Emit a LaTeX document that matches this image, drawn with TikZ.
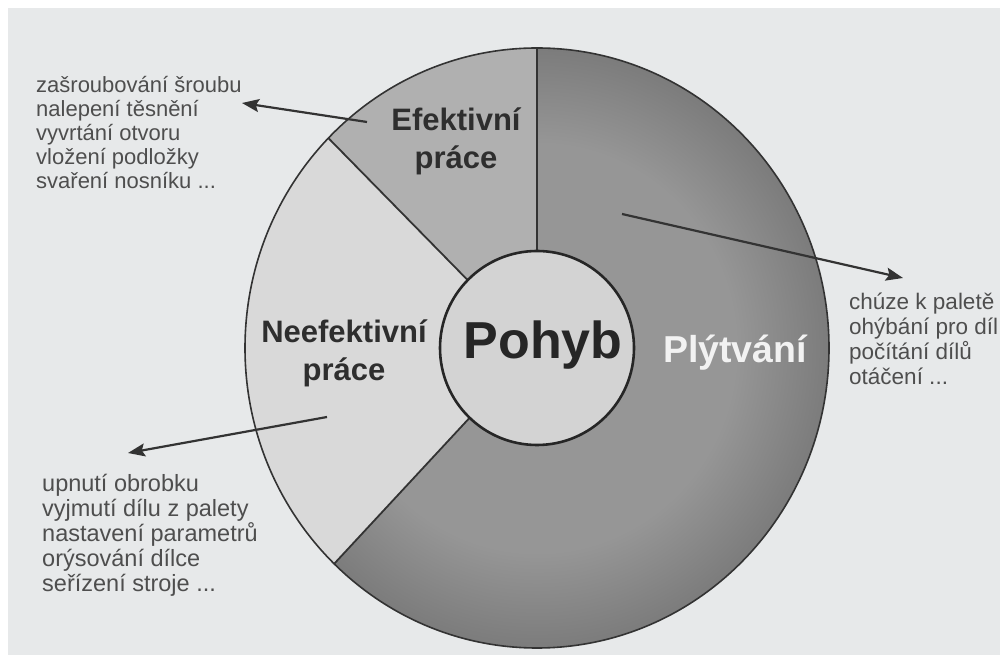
\documentclass[tikz,border=0pt]{standalone}
\usepackage{fontspec}
\setmainfont{Liberation Sans}
\usetikzlibrary{arrows.meta,calc}

\definecolor{paper}{HTML}{E7E9EA}
\definecolor{inkgray}{HTML}{4E4E4E}
\definecolor{labelink}{HTML}{2E2E2E}
\definecolor{effcol}{HTML}{B0B0B0}
\definecolor{neffcol}{HTML}{D9D9D9}
\definecolor{corecol}{HTML}{D3D3D3}
\definecolor{wasteA}{HTML}{969696}
\definecolor{wasteB}{HTML}{686868}
\definecolor{wasteC}{HTML}{474747}

% radial fill for the large "waste" segment: light near the hub, dark at the rim
\pgfdeclareradialshading{waste}{\pgfpoint{0bp}{0bp}}{%
  color(0bp)=(wasteA); color(17bp)=(wasteA); color(31bp)=(wasteB); color(50bp)=(wasteC)}

\tikzset{
  rimline/.style={draw=black!80, line width=1.6pt},
  divider/.style={draw=black!80, line width=1.8pt},
  pointer/.style={draw=black!80, line width=2.2pt,
    -{Stealth[length=17pt,width=13pt,inset=3pt]}},
  listtext/.style={text=inkgray, align=left, inner sep=0pt, anchor=north west},
  seglabel/.style={text=labelink, align=center, inner sep=0pt,
    font=\fontsize{31}{38}\selectfont\bfseries},
}

\begin{document}
\begin{tikzpicture}[x=1pt,y=1pt]
\useasboundingbox (0,0) rectangle (1000,655);
\fill[white] (0,0) rectangle (1000,655);
\fill[paper] (8,0) rectangle (1000,647);

\coordinate (C) at (537,307);

% segment boundaries on hub and rim
\coordinate (h90)  at ($(C)+(90:97pt)$);
\coordinate (r90)  at ($(C)+(90:292pt and 300pt)$);
\coordinate (h135) at ($(C)+(135.6:97pt)$);
\coordinate (r135) at ($(C)+(135.6:292pt and 300pt)$);
\coordinate (h226) at ($(C)+(226:97pt)$);
\coordinate (r226) at ($(C)+(226:292pt and 300pt)$);

% effective work segment
\fill[effcol] (r90) arc[start angle=90,end angle=135.6,x radius=292pt,y radius=300pt]
  -- (h135) arc[start angle=135.6,end angle=90,radius=97pt] -- cycle;
% ineffective work segment
\fill[neffcol] (r135) arc[start angle=135.6,end angle=226,x radius=292pt,y radius=300pt]
  -- (h226) arc[start angle=226,end angle=135.6,radius=97pt] -- cycle;
% waste segment
\begin{scope}
  \clip (r226) arc[start angle=226,end angle=450,x radius=292pt,y radius=300pt]
    -- (h90) arc[start angle=90,end angle=-134,radius=97pt] -- cycle;
  \shade[shading=waste] (C) ellipse[x radius=292pt,y radius=300pt];
\end{scope}

% rim and dividers
\draw[rimline] (C) ellipse[x radius=292pt,y radius=300pt];
\draw[divider] (h90) -- (r90);
\draw[divider] (h135) -- (r135);
\draw[divider] (h226) -- (r226);

% hub
\node[circle, draw=black!85, line width=2.6pt, fill=corecol,
      minimum size=194pt, inner sep=0pt] (core) at (C) {};

% segment labels
\node[seglabel, font=\fontsize{52}{60}\selectfont\bfseries, text=black!85] (pohyb) at (543,310) {Pohyb};
\node[seglabel] (eff) at (456,514) {Efektivní\\práce};
\node[seglabel] (neff) at (344,302) {Neefektivní\\práce};
\node[seglabel, font=\fontsize{37.5}{42}\selectfont\bfseries, text=white!95!black] (waste) at (735,302) {Plýtvání};

% example lists
\node[listtext, font=\fontsize{22}{24}\selectfont] (efflist) at (36,579)
  {zašroubování šroubu\\nalepení těsnění\\vyvrtání otvoru\\vložení podložky\\svaření nosníku ...};
\node[listtext, font=\fontsize{22.5}{25}\selectfont] (wastelist) at (849,362)
  {chúze k paletě\\ohýbání pro díl\\počítání dílů\\otáčení ...};
\node[listtext, font=\fontsize{23.5}{25}\selectfont] (nefflist) at (42,181)
  {upnutí obrobku\\vyjmutí dílu z palety\\nastavení parametrů\\orýsování dílce\\seřízení stroje ...};

% pointers from segments to their lists
\coordinate (p1s) at (367,533);
\coordinate (p1e) at (242,552);
\coordinate (p2s) at (622,441);
\coordinate (p2e) at (903,377);
\coordinate (p3s) at (327,238);
\coordinate (p3e) at (128,202);
\draw[pointer] (p1s) -- (p1e);
\draw[pointer] (p2s) -- (p2e);
\draw[pointer] (p3s) -- (p3e);
\end{tikzpicture}
\end{document}
